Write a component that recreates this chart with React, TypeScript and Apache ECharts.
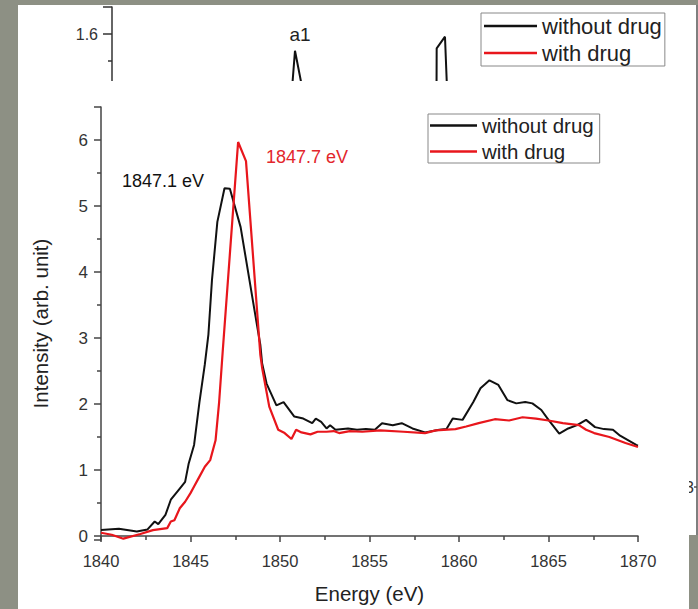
import React, { useEffect, useRef } from 'react';
import * as echarts from 'echarts';

// ---- data ----
const seriesNames = ['without drug', 'with drug'];

const blackEnergy = [
  1840.0, 1841.0, 1842.0, 1842.6, 1843.0, 1843.2, 1843.6, 1843.9, 1844.4, 1844.7,
  1844.9, 1845.2, 1845.5, 1845.8, 1846.0, 1846.2, 1846.5, 1846.9, 1847.2, 1847.8,
  1848.6, 1848.9, 1849.0, 1849.25, 1849.8, 1850.2, 1850.8, 1851.3, 1851.8, 1852.0,
  1852.3, 1852.6, 1852.8, 1853.1, 1853.8, 1854.3, 1854.8, 1855.3, 1855.7, 1856.3,
  1856.8, 1857.4, 1858.1, 1858.9, 1859.3, 1859.65, 1860.2, 1860.8, 1861.2, 1861.7,
  1862.2, 1862.7, 1863.2, 1863.7, 1864.1, 1864.6, 1865.0, 1865.6, 1866.1, 1866.6,
  1867.1, 1867.6, 1868.1, 1868.6, 1869.0, 1869.9, 1870.0,
];
const blackIntensity = [
  0.09, 0.11, 0.07, 0.10, 0.22, 0.18, 0.32, 0.55, 0.72, 0.82,
  1.10, 1.38, 2.03, 2.60, 3.05, 3.88, 4.76, 5.27, 5.26, 4.68,
  3.38, 2.90, 2.62, 2.31, 1.98, 2.03, 1.81, 1.78, 1.71, 1.78,
  1.73, 1.63, 1.68, 1.61, 1.63, 1.61, 1.62, 1.61, 1.71, 1.68,
  1.71, 1.63, 1.57, 1.61, 1.62, 1.78, 1.76, 2.03, 2.24, 2.36,
  2.29, 2.06, 2.01, 2.03, 2.01, 1.91, 1.76, 1.55, 1.63, 1.68,
  1.76, 1.65, 1.62, 1.61, 1.52, 1.38, 1.37,
];

const redEnergy = [
  1840.0, 1840.6, 1841.25, 1842.2, 1842.9, 1843.7, 1843.9, 1844.1, 1844.4, 1844.7,
  1845.0, 1845.2, 1845.5, 1845.8, 1846.1, 1846.4, 1846.6, 1846.8, 1847.66, 1848.1,
  1848.9, 1849.0, 1849.4, 1849.9, 1850.26, 1850.64, 1850.9, 1851.2, 1851.7, 1852.1,
  1852.6, 1853.0, 1853.3, 1853.9, 1854.6, 1855.6, 1856.9, 1858.1, 1858.7, 1859.8,
  1860.4, 1861.1, 1862.0, 1862.8, 1863.55, 1864.3, 1865.0, 1865.8, 1866.7, 1867.1,
  1867.55, 1868.4, 1869.3, 1870.0,
];
const redIntensity = [
  0.05, 0.02, -0.04, 0.03, 0.09, 0.12, 0.22, 0.24, 0.42, 0.52,
  0.65, 0.75, 0.90, 1.05, 1.15, 1.45, 2.03, 2.80, 5.97, 5.68,
  2.75, 2.55, 1.96, 1.61, 1.56, 1.47, 1.61, 1.57, 1.54, 1.58,
  1.58, 1.59, 1.56, 1.59, 1.58, 1.60, 1.58, 1.56, 1.60, 1.62,
  1.66, 1.71, 1.77, 1.75, 1.80, 1.78, 1.75, 1.71, 1.68, 1.61,
  1.56, 1.50, 1.41, 1.35,
];

// fragment of the panel behind (only the tops of two peaks are visible)
const backX = [30.71, 31.28, 32.7, 55.47, 55.5, 56.92, 57.3];
const backY = [1.38, 1.538, 1.38, 1.38, 1.547, 1.59, 1.38];

const peakLabels = ['1847.1 eV', '1847.7 eV'];
const panelLabel = 'a1';
const cutLabel = '3';
const xAxisName = 'Energy (eV)';
const yAxisName = 'Intensity (arb. unit)';

const FONT = "'Liberation Sans', Arial, Helvetica, sans-serif";
const AXIS = '#444';

export default function App() {
  const ref = useRef<HTMLDivElement>(null);

  useEffect(() => {
    if (!ref.current) return;
    const chart = echarts.init(ref.current, undefined, { renderer: 'svg' });

    const zip = (xs: number[], ys: number[]) => xs.map((x, i) => [x, ys[i]]);

    const option: any = {
      animation: false,
      backgroundColor: '#8d9084',
      textStyle: { fontFamily: FONT },
      grid: [
        { left: 101, top: 107, width: 537, height: 433, containLabel: false },
        { left: 112, top: 7, width: 585, height: 81, containLabel: false },
      ],
      xAxis: [
        {
          type: 'value',
          gridIndex: 0,
          min: 1840,
          max: 1870,
          interval: 5,
          z: 10,
          axisLine: { show: true, lineStyle: { color: AXIS, width: 1.5 } },
          axisTick: { show: true, length: 6, lineStyle: { color: AXIS, width: 1.5 } },
          minorTick: { show: true, splitNumber: 2, length: 4, lineStyle: { color: AXIS, width: 1.5 } },
          splitLine: { show: false },
          axisLabel: {
            fontSize: 16.5,
            color: '#333',
            margin: 12,
            fontFamily: FONT,
            formatter: (v: number) => String(v),
          },
          name: xAxisName,
          nameLocation: 'middle',
          nameGap: 43,
          nameTextStyle: { fontSize: 20.5, color: '#222', fontFamily: FONT },
        },
        { type: 'value', gridIndex: 1, min: 0, max: 100, show: false },
      ],
      yAxis: [
        {
          type: 'value',
          gridIndex: 0,
          min: -0.06,
          max: 6.5,
          z: 10,
          axisLine: { show: true, lineStyle: { color: AXIS, width: 1.5 } },
          axisTick: { show: true, length: 7, lineStyle: { color: AXIS, width: 1.5 } },
          minorTick: { show: true, splitNumber: 2, length: 4, lineStyle: { color: AXIS, width: 1.5 } },
          splitLine: { show: false },
          axisLabel: {
            fontSize: 17,
            color: '#333',
            margin: 13,
            fontFamily: FONT,
            formatter: (v: number) => (Number.isInteger(v) ? String(v) : ''),
          },
          name: yAxisName,
          nameLocation: 'middle',
          nameGap: 50,
          nameTextStyle: { fontSize: 20.5, color: '#222', fontFamily: FONT },
        },
        {
          type: 'value',
          gridIndex: 1,
          min: 1.4,
          max: 1.7,
          interval: 0.2,
          axisLine: { show: true, lineStyle: { color: '#333', width: 1.5 } },
          axisTick: { show: true, length: 9, lineStyle: { color: '#333', width: 1.5 } },
          minorTick: { show: true, splitNumber: 2, length: 4, lineStyle: { color: '#333', width: 1.5 } },
          splitLine: { show: false },
          axisLabel: {
            fontSize: 16,
            color: '#333',
            margin: 14,
            fontFamily: FONT,
            formatter: (v: number) => (Math.abs(v - 1.7) < 1e-6 ? '' : v.toFixed(1)),
          },
        },
      ],
      legend: [
        {
          data: seriesNames,
          orient: 'vertical',
          left: 428,
          top: 114,
          padding: [1, 6, 1, 2],
          itemGap: 5,
          itemWidth: 47,
          itemHeight: 2.5,
          icon: 'rect',
          borderColor: '#888',
          borderWidth: 1,
          selectedMode: false,
          z: 10,
          textStyle: { fontSize: 20.5, lineHeight: 21, color: '#222', fontFamily: FONT },
        },
        {
          data: seriesNames,
          orient: 'vertical',
          left: 481,
          top: 13,
          padding: [2, 3, 2, 3],
          itemGap: 5,
          itemWidth: 53,
          itemHeight: 2.5,
          icon: 'rect',
          borderColor: '#888',
          borderWidth: 1,
          selectedMode: false,
          z: 1,
          textStyle: { fontSize: 22, lineHeight: 22, color: '#222', fontFamily: FONT },
        },
      ],
      graphic: [
        // panel behind
        { type: 'rect', z: -5, silent: true, shape: { x: 18, y: 5, width: 680, height: 530 }, style: { fill: '#ffffff' } },
        { type: 'line', z: -4, silent: true, shape: { x1: 697, y1: 5, x2: 697, y2: 535 }, style: { stroke: '#555', lineWidth: 1.5 } },
        { type: 'line', z: -4, silent: true, shape: { x1: 694, y1: 487, x2: 697, y2: 487 }, style: { stroke: '#555', lineWidth: 1.5 } },
        {
          type: 'text', z: -4, silent: true,
          style: { text: cutLabel, x: 694, y: 487, align: 'right', verticalAlign: 'middle', fill: '#333', font: `16px ${FONT}` },
        },
        {
          type: 'text', z: 1, silent: true,
          style: { text: panelLabel, x: 300, y: 34, align: 'center', verticalAlign: 'middle', fill: '#222', font: `19px ${FONT}` },
        },
        // front panel
        { type: 'rect', z: 5, silent: true, shape: { x: 18, y: 81, width: 671, height: 528 }, style: { fill: '#ffffff' } },
        {
          type: 'text', z: 10, silent: true,
          style: { text: peakLabels[0], x: 122, y: 181, align: 'left', verticalAlign: 'middle', fill: '#111', font: `18px ${FONT}` },
        },
        {
          type: 'text', z: 10, silent: true,
          style: { text: peakLabels[1], x: 266, y: 157, align: 'left', verticalAlign: 'middle', fill: '#e3262c', font: `18px ${FONT}` },
        },
      ],
      series: [
        {
          name: seriesNames[0],
          type: 'line',
          xAxisIndex: 0,
          yAxisIndex: 0,
          data: zip(blackEnergy, blackIntensity),
          symbol: 'none',
          z: 10,
          color: '#111111',
          lineStyle: { color: '#111111', width: 2 },
        },
        {
          name: seriesNames[1],
          type: 'line',
          xAxisIndex: 0,
          yAxisIndex: 0,
          data: zip(redEnergy, redIntensity),
          symbol: 'none',
          z: 11,
          color: '#e8161c',
          lineStyle: { color: '#e8161c', width: 2.2 },
        },
        {
          name: seriesNames[0],
          type: 'line',
          xAxisIndex: 1,
          yAxisIndex: 1,
          data: zip(backX, backY),
          symbol: 'none',
          z: 2,
          clip: true,
          color: '#111111',
          lineStyle: { color: '#111111', width: 2 },
        },
      ],
    };

    chart.setOption(option);
    return () => chart.dispose();
  }, []);

  return (
    <div
      ref={ref}
      style={{ position: 'absolute', left: 0, top: 0, width: 698, height: 609 }}
    />
  );
}
